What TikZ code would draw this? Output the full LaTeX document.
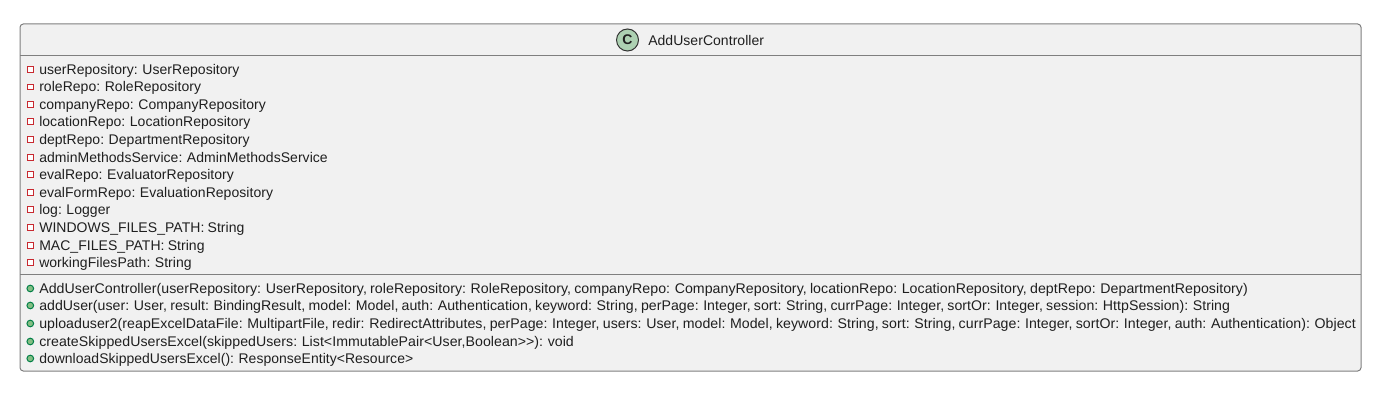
\documentclass[tikz,border=0pt]{standalone}
\usepackage{fontspec}
\setmainfont[WordSpace=0.82, LetterSpace=0.3]{Liberation Sans}
\usetikzlibrary{positioning}
\definecolor{boxfill}{HTML}{F1F1F1}
\definecolor{boxline}{HTML}{7F7F7F}
\definecolor{privline}{HTML}{C82930}
\definecolor{pubfill}{HTML}{84BE84}
\definecolor{publine}{HTML}{038048}
\definecolor{circlefill}{HTML}{ADD1B2}
\tikzset{x=0.75pt, y=-0.75pt, every node/.style={font=\fontsize{10.5pt}{12pt}\selectfont, text=black!88},
    member/.style={anchor=base west, inner sep=0pt},
    priv/.style={rectangle, draw=privline, fill=white, line width=0.75pt, inner sep=0pt, minimum size=4.2pt},
    pub/.style={circle, draw=publine, fill=pubfill, line width=0.75pt, inner sep=0pt, minimum size=5pt}}

\begin{document}
\begin{tikzpicture}
    \useasboundingbox (0,0) rectangle (1380,402);
    \draw[boxline, fill=boxfill, line width=0.75pt, rounded corners=2.5pt] (20,24) rectangle (1361,371);
    \draw[boxline, line width=0.75pt] (20,55.5) -- (1361,55.5);
    \draw[boxline, line width=0.75pt] (20,275) -- (1361,275);
    % header
    \node[circle, draw=black!80, fill=circlefill, line width=0.75pt, minimum size=16.5pt, inner sep=0pt] (badge) at (627.5,40) {\fontsize{10.5pt}{12pt}\selectfont\bfseries C};
    \node[member] (title) at (648,45.5) {AddUserController};
    % fields
    \foreach \y/\name/\txt in {
        69/f1/{userRepository: UserRepository},
        86.5/f2/{roleRepo: RoleRepository},
        104/f3/{companyRepo: CompanyRepository},
        121/f4/{locationRepo: LocationRepository},
        139/f5/{deptRepo: DepartmentRepository},
        157/f6/{adminMethodsService: AdminMethodsService},
        174/f7/{evalRepo: EvaluatorRepository},
        192/f8/{evalFormRepo: EvaluationRepository},
        209/f9/{log: Logger},
        227/f10/{WINDOWS\_FILES\_PATH: String},
        245/f11/{MAC\_FILES\_PATH: String},
        262/f12/{workingFilesPath: String}}
    {
        \node[priv] (\name m) at (30.3,\y+0.5) {};
        \node[member] (\name) at (39,\y+5.5) {\txt};
    }
    % methods
    \foreach \y/\name/\sx/\txt in {
        288/m1/1.0126/{AddUserController(userRepository: UserRepository, roleRepository: RoleRepository, companyRepo: CompanyRepository, locationRepo: LocationRepository, deptRepo: DepartmentRepository)},
        305/m2/1.0097/{addUser(user: User, result: BindingResult, model: Model, auth: Authentication, keyword: String, perPage: Integer, sort: String, currPage: Integer, sortOr: Integer, session: HttpSession): String},
        323/m3/1.0115/{uploaduser2(reapExcelDataFile: MultipartFile, redir: RedirectAttributes, perPage: Integer, users: User, model: Model, keyword: String, sort: String, currPage: Integer, sortOr: Integer, auth: Authentication): Object},
        341/m4/1.011/{createSkippedUsersExcel(skippedUsers: List<ImmutablePair<User,Boolean>{}>): void},
        358/m5/0.996/{downloadSkippedUsersExcel(): ResponseEntity<Resource>}}
    {
        \node[pub] (\name m) at (30.3,\y+0.5) {};
        \node[member, transform shape, xscale=\sx] (\name) at (39,\y+5.5) {\txt};
    }
\end{tikzpicture}
\end{document}
